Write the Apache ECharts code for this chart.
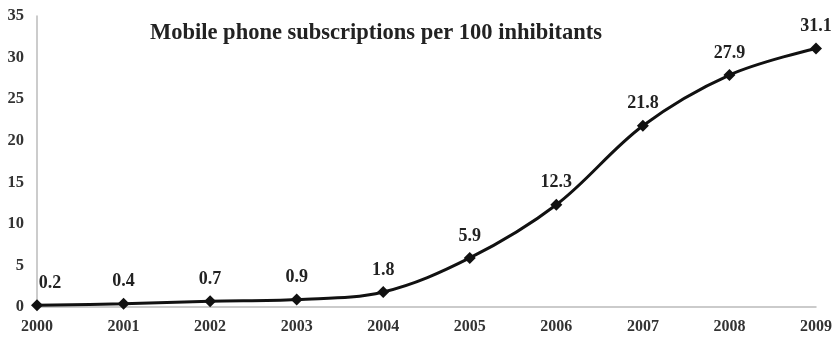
<!DOCTYPE html>
<html>
<head>
<meta charset="utf-8">
<script src="https://cdn.jsdelivr.net/npm/echarts@6/dist/echarts.min.js"></script>
<style>
html,body{margin:0;padding:0;background:#fff;}
#chart{width:835px;height:337px;}
</style>
</head>
<body>
<div id="chart"></div>
<script>
// Mobile phone subscriptions per 100 inhabitants, by year
const years = ['2000','2001','2002','2003','2004','2005','2006','2007','2008','2009'];
const subscriptions = [0.2, 0.4, 0.7, 0.9, 1.8, 5.9, 12.3, 21.8, 27.9, 31.1];
const yTicks = [0, 5, 10, 15, 20, 25, 30, 35];

const serif = '"Liberation Serif", "Times New Roman", serif';
const chart = echarts.init(document.getElementById('chart'));

chart.setOption({
  animation: false,
  title: {
    text: 'Mobile phone subscriptions per 100 inhibitants',
    left: 145,
    top: 17,
    textStyle: { fontFamily: serif, fontWeight: 'bold', fontSize: 22.5, color: '#222' }
  },
  grid: { left: 37, right: 18, top: 16, bottom: 30 },
  xAxis: {
    type: 'category',
    data: years,
    boundaryGap: false,
    axisLine: { lineStyle: { color: '#bbbbbb', width: 1.5 } },
    axisTick: { show: false },
    axisLabel: { fontFamily: serif, fontWeight: 'bold', fontSize: 16, color: '#333', margin: 12 }
  },
  yAxis: {
    type: 'value',
    min: yTicks[0],
    max: yTicks[yTicks.length - 1],
    interval: 5,
    axisLine: { show: true, lineStyle: { color: '#bbbbbb', width: 1.5 } },
    axisTick: { show: false },
    splitLine: { show: false },
    axisLabel: { fontFamily: serif, fontWeight: 'bold', fontSize: 16.5, color: '#333', margin: 13 }
  },
  series: [{
    type: 'line',
    data: subscriptions.map((v, i) => i === 0
      ? { value: v, label: { offset: [13, 0] } }
      : v),
    smooth: 0.35,
    symbol: 'diamond',
    symbolSize: 12,
    lineStyle: { color: '#111', width: 3 },
    itemStyle: { color: '#111' },
    label: {
      show: true,
      position: 'top',
      distance: 7,
      fontFamily: serif,
      fontWeight: 'bold',
      fontSize: 18,
      color: '#222'
    }
  }]
});
</script>
</body>
</html>
